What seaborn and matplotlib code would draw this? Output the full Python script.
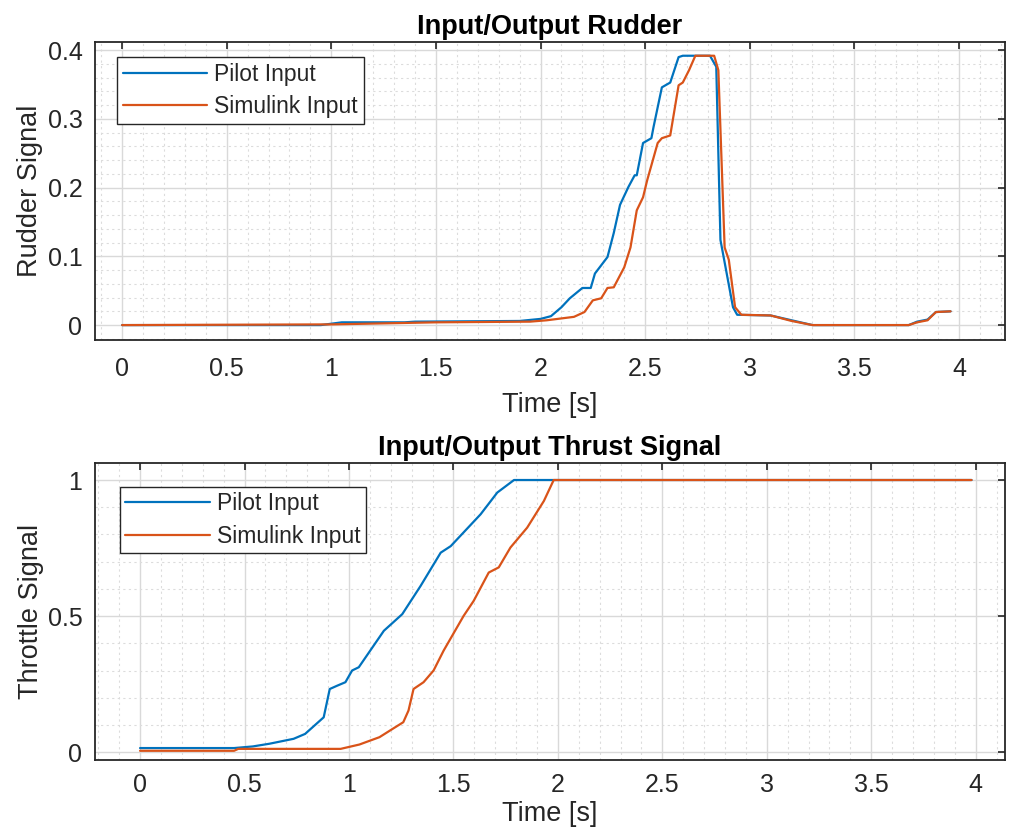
import numpy as np
import pandas as pd
import seaborn as sns
import matplotlib.pyplot as plt
from matplotlib.ticker import MultipleLocator

# rudder signal
rud_pilot_t = [0.0, 0.95, 1.0, 1.05, 1.35, 1.4, 1.9, 2.0, 2.05, 2.10, 2.14, 2.20, 2.24, 2.26, 2.32, 2.35,
               2.38, 2.42, 2.45, 2.46, 2.49, 2.53, 2.54, 2.58, 2.62, 2.66, 2.68, 2.81, 2.84, 2.86,
               2.89, 2.92, 2.94, 3.10, 3.20, 3.30, 3.76, 3.80, 3.85, 3.89, 3.96]
rud_pilot_v = [0.0, 0.0, 0.002, 0.004, 0.004, 0.005, 0.006, 0.009, 0.013, 0.026, 0.039, 0.054, 0.054, 0.075, 0.099, 0.134,
               0.175, 0.201, 0.218, 0.218, 0.265, 0.272, 0.288, 0.346, 0.353, 0.390, 0.392, 0.392, 0.376, 0.124,
               0.075, 0.026, 0.015, 0.014, 0.007, 0.0, 0.0, 0.005, 0.008, 0.019, 0.020]
rud_sim_t = [0.0, 1.0, 1.5, 1.95, 2.03, 2.16, 2.21, 2.25, 2.29, 2.32, 2.35, 2.40, 2.43, 2.46, 2.49, 2.51,
             2.56, 2.58, 2.62, 2.66, 2.68, 2.71, 2.74, 2.83, 2.85, 2.88, 2.90, 2.93, 2.96, 3.10,
             3.20, 3.30, 3.76, 3.80, 3.85, 3.89, 3.96]
rud_sim_v = [0.0, 0.001, 0.004, 0.005, 0.007, 0.012, 0.019, 0.036, 0.039, 0.054, 0.055, 0.084, 0.113, 0.167, 0.186, 0.211,
             0.265, 0.272, 0.276, 0.349, 0.353, 0.371, 0.392, 0.392, 0.371, 0.113, 0.095, 0.026, 0.015, 0.014,
             0.006, 0.0, 0.0, 0.004, 0.007, 0.019, 0.020]

# throttle signal
thr_pilot_t = [0.0, 0.45, 0.54, 0.62, 0.735, 0.79, 0.879, 0.908, 0.943, 0.983, 1.015, 1.047, 1.167, 1.255,
               1.343, 1.439, 1.487, 1.63, 1.71, 1.79, 3.98]
thr_pilot_v = [0.015, 0.015, 0.021, 0.031, 0.049, 0.067, 0.128, 0.232, 0.244, 0.257, 0.30, 0.312, 0.446, 0.507,
               0.611, 0.733, 0.757, 0.874, 0.954, 1.0, 1.0]
thr_sim_t = [0.0, 0.45, 0.47, 0.96, 1.05, 1.146, 1.21, 1.26, 1.285, 1.309, 1.357, 1.405, 1.453, 1.549, 1.597,
             1.669, 1.717, 1.773, 1.853, 1.933, 1.98, 3.98]
thr_sim_v = [0.005, 0.005, 0.012, 0.012, 0.028, 0.055, 0.086, 0.11, 0.153, 0.232, 0.257, 0.30, 0.373, 0.501, 0.556,
             0.66, 0.679, 0.752, 0.825, 0.923, 1.0, 1.0]

time_ticks = ["0", "0.5", "1", "1.5", "2", "2.5", "3", "3.5", "4"]

blue = "#0072BD"
orange = "#D95319"
dark = "#262626"

sns.set_style("white")
plt.rcParams['font.family'] = ['Liberation Sans', 'DejaVu Sans']

fig = plt.figure(figsize=(10.1, 8.4), dpi=100)
ax1 = fig.add_axes([0.094, 0.595, 0.901, 0.355])
ax2 = fig.add_axes([0.094, 0.0952, 0.901, 0.3536])


def style_axes(ax, xmaj, xmin, ymaj, ymin, xpad, lpad):
    ax.xaxis.set_major_locator(MultipleLocator(xmaj))
    ax.xaxis.set_minor_locator(MultipleLocator(xmin))
    ax.yaxis.set_major_locator(MultipleLocator(ymaj))
    ax.yaxis.set_minor_locator(MultipleLocator(ymin))
    ax.grid(which='major', color='#d9d9d9', linewidth=1.0)
    ax.grid(which='minor', color='#dcdcdc', linewidth=0.8, linestyle=(0, (2, 3)))
    ax.set_axisbelow(True)
    ax.tick_params(which='major', direction='in', length=5, width=1.2, top=True, right=True,
                   labelsize=18, colors=dark)
    ax.tick_params(axis='x', which='major', pad=xpad)
    ax.tick_params(axis='y', which='major', pad=9)
    ax.tick_params(which='minor', direction='in', length=0)
    for s in ax.spines.values():
        s.set_color(dark)
        s.set_linewidth(1.3)
    ax.set_xlabel("Time [s]", fontsize=19.5, color=dark, labelpad=lpad)


sns.lineplot(x=rud_pilot_t, y=rud_pilot_v, ax=ax1, color=blue, linewidth=1.6, label="Pilot Input")
sns.lineplot(x=rud_sim_t, y=rud_sim_v, ax=ax1, color=orange, linewidth=1.6, label="Simulink Input")
ax1.set_xlim(-0.13, 4.22)
ax1.set_ylim(-0.022, 0.412)
style_axes(ax1, 0.5, 0.1, 0.1, 0.02, 12, 8)
ax1.set_yticks([0, 0.1, 0.2, 0.3, 0.4])
ax1.set_yticklabels(["0", "0.1", "0.2", "0.3", "0.4"])
ax1.set_xticks(np.arange(0, 4.01, 0.5))
ax1.set_xticklabels(time_ticks)
ax1.set_ylabel("Rudder Signal", fontsize=19.5, color=dark, labelpad=3)
ax1.set_title("Input/Output Rudder", fontsize=19.5, fontweight='bold', pad=6, color='black')

sns.lineplot(x=thr_pilot_t, y=thr_pilot_v, ax=ax2, color=blue, linewidth=1.6, label="Pilot Input")
sns.lineplot(x=thr_sim_t, y=thr_sim_v, ax=ax2, color=orange, linewidth=1.6, label="Simulink Input")
ax2.set_xlim(-0.216, 4.14)
ax2.set_ylim(-0.029, 1.0625)
style_axes(ax2, 0.5, 0.1, 0.5, 0.1, 9, 3)
ax2.set_yticks([0, 0.5, 1])
ax2.set_yticklabels(["0", "0.5", "1"])
ax2.set_xticks(np.arange(0, 4.01, 0.5))
ax2.set_xticklabels(time_ticks)
ax2.set_ylabel("Throttle Signal", fontsize=19.5, color=dark, labelpad=3)
ax2.set_title("Input/Output Thrust Signal", fontsize=19.5, fontweight='bold', pad=6, color='black')

for ax, anchor in ((ax1, (0.024, 0.95)), (ax2, (0.027, 0.92))):
    leg = ax.legend(loc='upper left', bbox_to_anchor=anchor, fontsize=16.5, frameon=True,
                    fancybox=False, handlelength=3.7, borderpad=0.25, labelspacing=0.4,
                    handletextpad=0.3, borderaxespad=0.0)
    leg.get_frame().set_edgecolor(dark)
    leg.get_frame().set_linewidth(1.0)
    leg.get_frame().set_alpha(1)

fig.savefig("out.png", dpi=100, facecolor='white')
